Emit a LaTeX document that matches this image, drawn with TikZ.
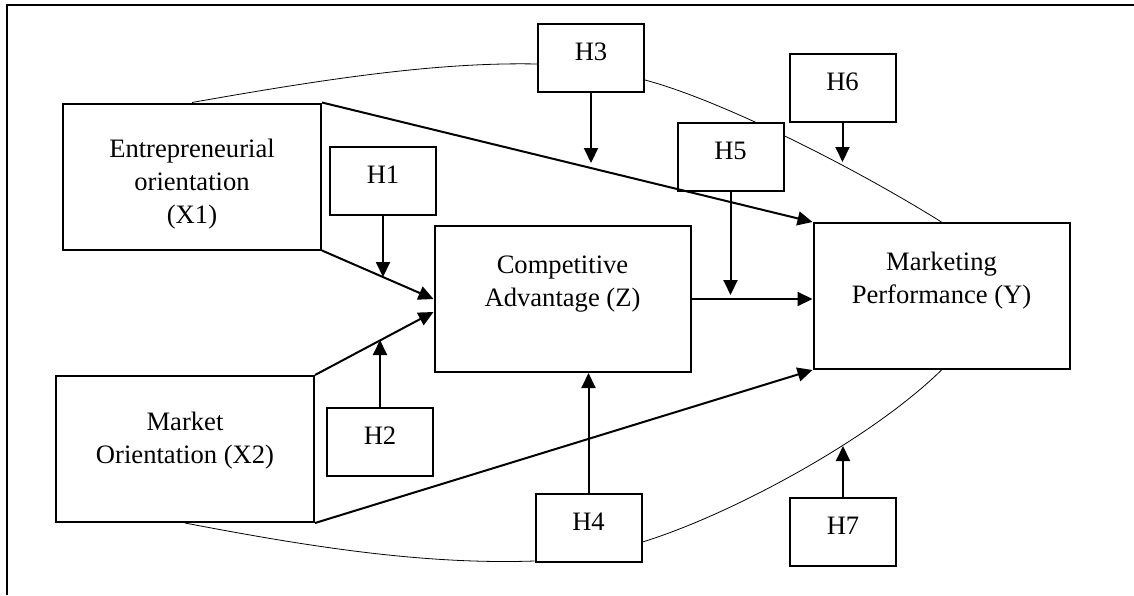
\documentclass[tikz,border=0pt]{standalone}
\usepackage{fontspec}
\setmainfont{Liberation Serif}
\usepackage{tikz}
\usetikzlibrary{arrows.meta,positioning,backgrounds}

\begin{document}
\begin{tikzpicture}[x=0.5pt, y=-0.5pt, >={Triangle[length=7.5pt,width=7pt]},
   font=\fontsize{13.3}{16.5}\selectfont, line width=1pt]
   \useasboundingbox (0,0) rectangle (1134,595);
   \draw[line width=0.8pt] (7,595) -- (7,5) -- (1134,5);
   \begin{scope}[every node/.style={rectangle,draw,fill=white,align=center,line width=1pt}]
    \node (x1) at (192,176.5) [minimum width=129pt,minimum height=73pt,text height=50pt] {Entrepreneurial\\orientation\\(X1)};
    \node (x2) at (185,449) [minimum width=129pt,minimum height=73pt,text depth=11pt] {Market\\Orientation (X2)};
    \node (z) at (562.5,299) [minimum width=128pt,minimum height=73pt,text depth=18pt] {Competitive\\Advantage (Z)};
    \node (y) at (941.5,296) [minimum width=128pt,minimum height=73pt,text depth=18pt] {Marketing\\Performance (Y)};
   \end{scope}
   \begin{scope}[every node/.style={rectangle,draw,fill=white,line width=1pt,minimum width=53pt,minimum height=34pt,text depth=6pt}]
    \node (h1) at (383,181) {H1};
    \node (h2) at (380,442) {H2};
    \node (h3) at (591,58) {H3};
    \node (h4) at (588.5,528) {H4};
    \node (h5) at (730.5,157) {H5};
    \node (h6) at (842.5,87.5) {H6};
    \node (h7) at (843,531.5) {H7};
   \end{scope}
   \coordinate (m1) at (383,277);
   \coordinate (m2) at (380,340);
   \coordinate (m3) at (591,163);
   \coordinate (m5) at (730.5,295);
   \coordinate (m6) at (842.5,162);
   \coordinate (m7) at (843,446);
   \begin{scope}[on background layer, line width=0.5pt]
    \draw (x1.north) .. controls (330,78) and (440,62) .. ([yshift=-3pt]h3.west);
    \draw ([yshift=-11pt]h3.east) .. controls (720,100) and (850,165) .. (y.north);
    \draw (x2.south) .. controls (300,545) and (420,565) .. ([yshift=-16.5pt]h4.west);
    \draw ([yshift=-7pt]h4.east) .. controls (730,515) and (870,440) .. (y.south);
   \end{scope}
   \draw[->] (x1.south east) -- (z.west);
   \draw[->] (x2.north east) -- ([yshift=-6.5pt]z.west);
   \draw[->] (x1.north east) -- (y.north west);
   \draw[->] (x2.south east) -- (y.south west);
   \draw[->] (z.east) -- (z.east -| y.west);
   \draw[->] (h1.south) -- (m1);
   \draw[->] (h2.north) -- (m2);
   \draw[->] (h3.south) -- (m3);
   \draw[->] (h4.north) -- (h4.north |- z.south);
   \draw[->] (h5.south) -- (m5);
   \draw[->] (h6.south) -- (m6);
   \draw[->] (h7.north) -- (m7);
\end{tikzpicture}
\end{document}
